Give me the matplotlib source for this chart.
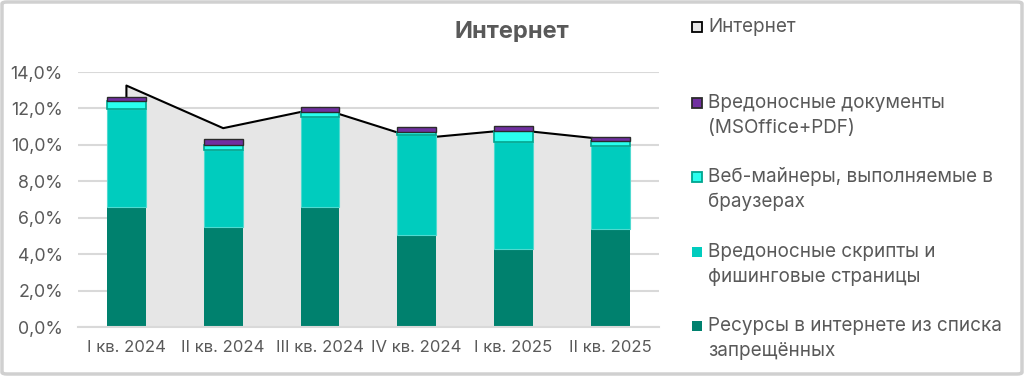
import numpy as np
import matplotlib
matplotlib.use("Agg")
import matplotlib.pyplot as plt
from matplotlib.patches import FancyBboxPatch, Rectangle
from matplotlib.ticker import FuncFormatter

plt.rcParams['font.family'] = ['Inter', 'DejaVu Sans']

# ── Data (% of users) ─────────────────────────────────────────────────────────
quarters  = ["I кв. 2024", "II кв. 2024", "III кв. 2024",
             "IV кв. 2024", "I кв. 2025", "II кв. 2025"]
internet  = [13.26, 10.92, 12.03, 10.35, 10.84, 10.28]   # area series
blocked   = [6.60, 5.48, 6.60, 5.04, 4.27, 5.37]
scripts   = [5.35, 4.22, 4.96, 5.48, 5.88, 4.56]
miners    = [0.45, 0.31, 0.24, 0.20, 0.64, 0.26]
documents = [0.22, 0.31, 0.27, 0.26, 0.26, 0.24]

TEXT = "#595959"
GRID = "#D9D9D9"

fig = plt.figure(figsize=(10.24, 3.76), dpi=100)
ax = fig.add_axes([0.0762, 0.1303, 0.567, 0.678])

x = np.arange(len(quarters))

# background area
ax.fill_between(x, 0, internet, color="#E6E6E6", zorder=1, linewidth=0)
ax.plot(np.r_[x[0], x, x[-1]], np.r_[0, internet, 0], color="black",
        linewidth=1.5, zorder=2)

# stacked bars
w = 0.40
b0 = np.zeros(len(x))
ax.bar(x, blocked, w, bottom=b0, color="#00816E", zorder=3, linewidth=0)
b1 = b0 + np.array(blocked)
ax.bar(x, scripts, w, bottom=b1, color="#00CCBE", edgecolor="#4FDAD0",
       linewidth=0.8, zorder=3)
b2 = b1 + np.array(scripts)
ax.bar(x, miners, w, bottom=b2, color="#29FFEE", edgecolor="#00A58F",
       linewidth=1.2, zorder=3)
b3 = b2 + np.array(miners)
ax.bar(x, documents, w, bottom=b3, color="#7030A0", edgecolor="#2B2B2B",
       linewidth=1.0, zorder=4)

ax.set_xlim(-0.5, 5.5)
ax.set_ylim(0, 14)
ax.set_yticks(np.arange(0, 14.1, 2))
ax.yaxis.set_major_formatter(FuncFormatter(lambda v, p: f"{v:.1f}%".replace(".", ",")))
ax.set_xticks(x)
ax.set_xticklabels(quarters)
ax.grid(axis="y", color=GRID, linewidth=1.5, zorder=0)
ax.set_axisbelow(True)
for s in ["top", "right", "left"]:
    ax.spines[s].set_visible(False)
ax.spines["bottom"].set_color(GRID)
ax.spines["bottom"].set_linewidth(1.5)
ax.spines["bottom"].set_zorder(5)
ax.tick_params(length=0, colors=TEXT)
ax.tick_params(axis="x", pad=9, labelsize=12)
ax.tick_params(axis="y", pad=11, labelsize=12.8)

fig.text(512 / 1024, 1 - 32 / 376, "Интернет", ha="center", va="center",
         fontsize=17, fontweight="bold", color=TEXT)

# ── Legend (drawn manually) ───────────────────────────────────────────────────
legend_items = [
    (27,  ["Интернет"], "#E6E6E6", "black"),
    (103, ["Вредоносные документы", "(MSOffice+PDF)"], "#7030A0", "#2B2B2B"),
    (177, ["Веб-майнеры, выполняемые в", "браузерах"], "#29FFEE", "#00A58F"),
    (252, ["Вредоносные скрипты и", "фишинговые страницы"], "#00CCBE", None),
    (326, ["Ресурсы в интернете из списка", "запрещённых"], "#00816E", None),
]
for ypx, lines, fc, ec in legend_items:
    fig.patches.append(Rectangle((692 / 1024, 1 - (ypx + 5) / 376), 10 / 1024, 10 / 376,
                                 transform=fig.transFigure, facecolor=fc,
                                 edgecolor=ec if ec else fc,
                                 linewidth=1.3 if ec else 0))
    for i, line in enumerate(lines):
        fig.text(708 / 1024, 1 - (ypx + i * 25) / 376, line, ha="left",
                 va="center", fontsize=13.6, color=TEXT)

# outer frame
fig.patches.append(FancyBboxPatch((2 / 1024, 2 / 376), 1020 / 1024, 372 / 376,
                                  boxstyle="round,pad=0,rounding_size=0.005",
                                  transform=fig.transFigure, facecolor="none",
                                  edgecolor="#D0D0D0", linewidth=2.5))

fig.savefig("out.png", dpi=100)
